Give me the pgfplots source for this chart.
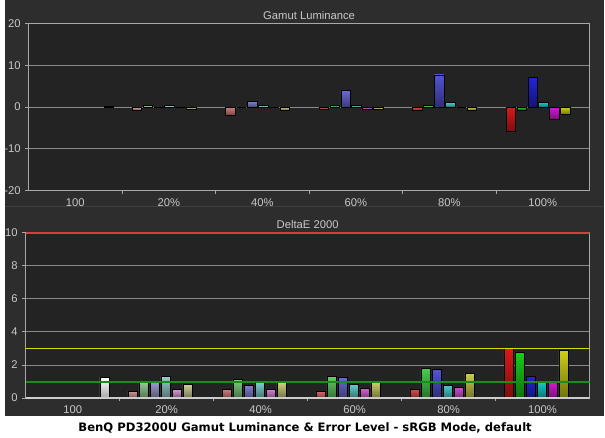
\documentclass[border=0pt]{standalone}
\usepackage{pgfplots}
\pgfplotsset{compat=1.18}
\usepackage{fontspec}
\setmainfont{Liberation Sans}
\newfontfamily\capfont{DejaVu Sans}

\definecolor{bgout}{HTML}{2D2D2D}
\definecolor{bgin}{HTML}{232323}
\definecolor{txt}{HTML}{C8C8C8}
\definecolor{gridc}{HTML}{8A8A8A}
\definecolor{axc}{HTML}{A8A8A8}
\definecolor{lg}{RGB}{205,205,205}
\definecolor{pr}{RGB}{220,25,25}
\definecolor{pg}{RGB}{25,205,25}
\definecolor{pb}{RGB}{35,35,215}
\definecolor{pc}{RGB}{25,205,205}
\definecolor{pm}{RGB}{215,25,215}
\definecolor{py}{RGB}{205,205,25}
\definecolor{redline}{HTML}{D04040}
\definecolor{yelline}{HTML}{DCDC00}
\definecolor{grnline}{HTML}{1A8C1A}

\pgfplotsset{
  panel/.style={
    scale only axis, anchor=south west,
    xmin=0, xmax=6,
    axis background/.style={fill=bgin},
    axis line style={axc, line width=0.8pt},
    tick style={axc, line width=0.6pt},
    tick align=outside, ytick pos=left, xtick pos=bottom,
    major tick length=2.5pt, minor tick length=2.5pt,
    ymajorgrids, grid style={gridc, line width=0.5pt},
    xtick={0.5,1.5,2.5,3.5,4.5,5.5},
    xticklabels={100,20\%,40\%,60\%,80\%,100\%},
    major x tick style={draw=none},
    minor xtick={1,2,3,4,5},
    ticklabel style={txt, font=\fontsize{8.5}{9}\selectfont},
    /pgf/number format/assume math mode=true,
    title style={txt, font=\fontsize{8.5}{9}\selectfont, inner sep=1pt, yshift=-4pt},
  },
  bx/.style 2 args={ybar, bar shift=0pt, bar width=0.102, draw=black,
    line width=0.7pt, top color=#1!#2!lg, bottom color=#1!#2!lg!55!black},
  wx/.style={ybar, bar shift=0pt, bar width=0.102, draw=black,
    line width=0.7pt, top color=white, bottom color=black!35},
}

\begin{document}
\begin{tikzpicture}
\fill[bgout] (0,0) rectangle (453.75pt,330.75pt);
\fill[white] (0,0) rectangle (453.75pt,15.75pt);
\draw[black!65!white!40!bgout, line width=0.8pt] (0,174.75pt) -- (453.75pt,174.75pt);

% Gamut Luminance
\begin{axis}[panel, at={(18pt,186.75pt)}, width=424.5pt, height=126pt,
  ymin=-20, ymax=20, ytick={-20,-10,0,10,20}, title={Gamut Luminance}]
\addplot[wx] coordinates {(0.860,0.1)};
% 20%
\addplot[bx={pr}{30}] coordinates {(1.158,-0.9)};
\addplot[bx={pg}{30}] coordinates {(1.275,0.3)};
\addplot[bx={pb}{30}] coordinates {(1.392,-0.2)};
\addplot[bx={pc}{30}] coordinates {(1.509,0.3)};
\addplot[bx={pm}{30}] coordinates {(1.626,-0.2)};
\addplot[bx={py}{30}] coordinates {(1.743,-0.5)};
% 40%
\addplot[bx={pr}{45}] coordinates {(2.158,-2.0)};
\addplot[bx={pg}{45}] coordinates {(2.275,0.0)};
\addplot[bx={pb}{45}] coordinates {(2.392,1.35)};
\addplot[bx={pc}{45}] coordinates {(2.509,0.3)};
\addplot[bx={pm}{45}] coordinates {(2.626,-0.2)};
\addplot[bx={py}{45}] coordinates {(2.743,-0.7)};
% 60%
\addplot[bx={pr}{58}] coordinates {(3.158,-0.5)};
\addplot[bx={pg}{58}] coordinates {(3.275,0.4)};
\addplot[bx={pb}{58}] coordinates {(3.392,4.0)};
\addplot[bx={pc}{58}] coordinates {(3.509,0.4)};
\addplot[bx={pm}{58}] coordinates {(3.626,-0.6)};
\addplot[bx={py}{58}] coordinates {(3.743,-0.6)};
% 80%
\addplot[bx={pr}{72}] coordinates {(4.158,-0.9)};
\addplot[bx={pg}{72}] coordinates {(4.275,0.3)};
\addplot[bx={pb}{72}] coordinates {(4.392,7.7)};
\addplot[bx={pc}{72}] coordinates {(4.509,1.1)};
\addplot[bx={pm}{72}] coordinates {(4.626,0.0)};
\addplot[bx={py}{72}] coordinates {(4.743,-0.7)};
% 100%
\addplot[bx={pr}{100}] coordinates {(5.158,-5.9)};
\addplot[bx={pg}{100}] coordinates {(5.275,-0.7)};
\addplot[bx={pb}{100}] coordinates {(5.392,7.0)};
\addplot[bx={pc}{100}] coordinates {(5.509,1.1)};
\addplot[bx={pm}{100}] coordinates {(5.626,-3.0)};
\addplot[bx={py}{100}] coordinates {(5.743,-1.8)};
\end{axis}

% DeltaE 2000
\begin{axis}[panel, at={(15.75pt,29.5pt)}, width=426.75pt, height=125.4pt,
  ymin=0, ymax=10, ytick={0,2,4,6,8,10}, title={DeltaE 2000}]
\addplot[wx] coordinates {(0.842,1.22)};
% 20%
\addplot[bx={pr}{30}] coordinates {(1.140,0.42)};
\addplot[bx={pg}{30}] coordinates {(1.257,1.0)};
\addplot[bx={pb}{30}] coordinates {(1.374,0.95)};
\addplot[bx={pc}{30}] coordinates {(1.491,1.32)};
\addplot[bx={pm}{30}] coordinates {(1.608,0.5)};
\addplot[bx={py}{30}] coordinates {(1.725,0.8)};
% 40%
\addplot[bx={pr}{45}] coordinates {(2.140,0.54)};
\addplot[bx={pg}{45}] coordinates {(2.257,1.1)};
\addplot[bx={pb}{45}] coordinates {(2.374,0.78)};
\addplot[bx={pc}{45}] coordinates {(2.491,0.96)};
\addplot[bx={pm}{45}] coordinates {(2.608,0.5)};
\addplot[bx={py}{45}] coordinates {(2.725,0.92)};
% 60%
\addplot[bx={pr}{58}] coordinates {(3.140,0.38)};
\addplot[bx={pg}{58}] coordinates {(3.257,1.32)};
\addplot[bx={pb}{58}] coordinates {(3.374,1.26)};
\addplot[bx={pc}{58}] coordinates {(3.491,0.84)};
\addplot[bx={pm}{58}] coordinates {(3.608,0.6)};
\addplot[bx={py}{58}] coordinates {(3.725,0.96)};
% 80%
\addplot[bx={pr}{72}] coordinates {(4.140,0.52)};
\addplot[bx={pg}{72}] coordinates {(4.257,1.8)};
\addplot[bx={pb}{72}] coordinates {(4.374,1.7)};
\addplot[bx={pc}{72}] coordinates {(4.491,0.78)};
\addplot[bx={pm}{72}] coordinates {(4.608,0.66)};
\addplot[bx={py}{72}] coordinates {(4.725,1.5)};
% 100%
\addplot[bx={pr}{100}] coordinates {(5.140,3.0)};
\addplot[bx={pg}{100}] coordinates {(5.257,2.78)};
\addplot[bx={pb}{100}] coordinates {(5.374,1.28)};
\addplot[bx={pc}{100}] coordinates {(5.491,1.02)};
\addplot[bx={pm}{100}] coordinates {(5.608,1.0)};
\addplot[bx={py}{100}] coordinates {(5.725,2.87)};
% reference levels
\addplot[grnline, line width=1.5pt] coordinates {(0,1) (6,1)};
\addplot[yelline, line width=0.8pt] coordinates {(0,3) (6,3)};
\addplot[redline, line width=2.6pt] coordinates {(0,10) (6,10)};
\addplot[lg, line width=2.4pt] coordinates {(0,0) (6,0)};
\end{axis}

\node[font=\capfont\bfseries] at (227.25pt,7pt)
  {\resizebox{343pt}{!}{BenQ PD3200U Gamut Luminance \& Error Level - sRGB Mode, default}};
\end{tikzpicture}
\end{document}
